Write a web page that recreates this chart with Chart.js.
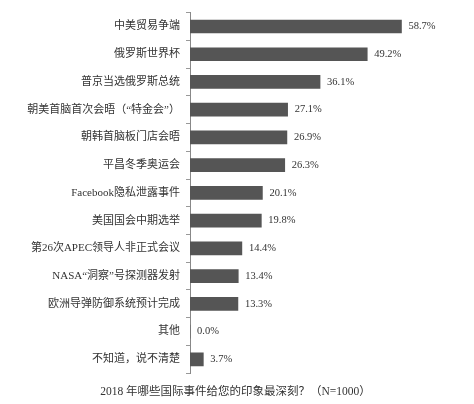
<!DOCTYPE html>
<html>
<head>
<meta charset="utf-8">
<script src="https://cdn.jsdelivr.net/npm/chart.js@4"></script>
<style>
  html, body { margin: 0; padding: 0; background: #fff; }
  #wrap { width: 474px; height: 404px; }
</style>
</head>
<body>
<div id="wrap"><canvas id="eventsChart"></canvas></div>
<script>
const events = [
  "中美贸易争端",
  "俄罗斯世界杯",
  "普京当选俄罗斯总统",
  "朝美首脑首次会晤（“特金会”）",
  "朝韩首脑板门店会晤",
  "平昌冬季奥运会",
  "Facebook隐私泄露事件",
  "美国国会中期选举",
  "第26次APEC领导人非正式会议",
  "NASA“洞察”号探测器发射",
  "欧洲导弹防御系统预计完成",
  "其他",
  "不知道，说不清楚"
];
const shares = [58.7, 49.2, 36.1, 27.1, 26.9, 26.3, 20.1, 19.8, 14.4, 13.4, 13.3, 0.0, 3.7];
const chartTitle = "2018 年哪些国际事件给您的印象最深刻？（N=1000）";

const FONT = "'Liberation Serif', 'Noto Sans CJK SC', serif";

// draws the "58.7%" labels at the end of each bar
const valueLabels = {
  id: "valueLabels",
  afterDatasetsDraw(chart) {
    const ctx = chart.ctx;
    const meta = chart.getDatasetMeta(0);
    ctx.save();
    ctx.font = "10.5px " + FONT;
    ctx.fillStyle = "#333";
    ctx.textBaseline = "middle";
    meta.data.forEach((bar, i) => {
      ctx.fillText(shares[i].toFixed(1) + "%", bar.x + 7, bar.y);
    });
    ctx.restore();
  }
};

new Chart(document.getElementById("eventsChart"), {
  type: "bar",
  data: {
    labels: events,
    datasets: [{
      data: shares,
      barThickness: 13,
      borderWidth: 0,
      backgroundColor: (c) => {
        const el = c.element;
        if (!el || el.y === undefined) return "#555";
        const g = c.chart.ctx.createLinearGradient(0, el.y - 6.5, 0, el.y + 6.5);
        g.addColorStop(0, "#858585");
        g.addColorStop(0.5, "#5c5c5c");
        g.addColorStop(1, "#404040");
        return g;
      }
    }]
  },
  options: {
    indexAxis: "y",
    responsive: true,
    maintainAspectRatio: false,
    animation: false,
    layout: { padding: { top: 8, right: 3, left: 0, bottom: 0 } },
    scales: {
      x: { display: false, min: 0, max: 78 },
      y: {
        afterFit: (s) => { s.width = 190; },
        grid: { drawOnChartArea: false, tickLength: 4, color: "#999", offset: true },
        border: { display: true, color: "#888" },
        ticks: {
          padding: 6,
          color: "#333",
          font: { family: FONT, size: 11 }
        }
      }
    },
    plugins: {
      legend: { display: false },
      tooltip: { enabled: false },
      title: {
        display: true,
        position: "bottom",
        text: chartTitle,
        color: "#333",
        padding: { top: 12, bottom: 5 },
        font: { family: FONT, size: 11.5, weight: "normal" }
      }
    }
  },
  plugins: [valueLabels]
});
</script>
</body>
</html>
